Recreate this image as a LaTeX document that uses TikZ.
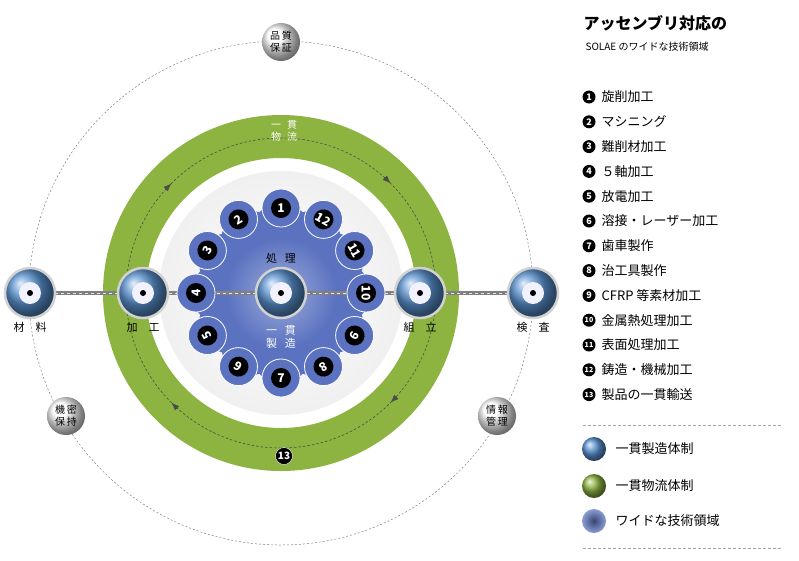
\documentclass[tikz,border=0pt]{standalone}
\usepackage{fontspec}
\setmainfont{Noto Sans CJK JP}
\usetikzlibrary{arrows.meta,decorations.markings,calc}
\definecolor{grn}{HTML}{8DB340}
\definecolor{blu}{HTML}{5A92D0}
\definecolor{vio}{HTML}{5B72C0}
\tikzset{
 nb/.style={circle,fill=black,text=white,inner sep=0pt,minimum size=13pt,font=\bfseries\fontsize{9}{9}\selectfont},
 proc/.style={circle,minimum size=50pt,draw=gray!35,line width=2.5pt,ball color=blu,inner sep=0pt},
 core/.style={circle,fill=blue!5,minimum size=22pt,inner sep=0pt},
 dot/.style={circle,fill=black,minimum size=6pt,inner sep=0pt},
 lab/.style={font=\fontsize{11}{13}\selectfont},
 sat/.style={circle,ball color=white,minimum size=38pt,inner sep=0pt,font=\fontsize{10}{12}\selectfont,align=center},
 small/.style={circle,fill=vio,draw=white,line width=0.8pt,minimum size=38pt,inner sep=0pt},
 item/.style={anchor=west,font=\fontsize{13}{13}\selectfont},
 legc/.style={circle,minimum size=24pt,inner sep=0pt}
}
\begin{document}
\begin{tikzpicture}[x=1pt,y=-1pt]
\useasboundingbox (0,0) rectangle (799,560);
\coordinate (C) at (281,293);
% outer dashed circle
\draw[gray,dashed,dash pattern=on 2pt off 2pt,line width=0.5pt] (C) circle[radius=252];
% green ring
\fill[grn,even odd rule] (C) circle[radius=178] (C) circle[radius=135];
\draw[black!70,dashed,dash pattern=on 2.5pt off 2pt,line width=0.6pt,
 postaction={decorate},decoration={markings,
 mark=at position 0.125 with {\arrow{Latex[length=8pt,width=6pt]}},
 mark=at position 0.375 with {\arrow{Latex[length=8pt,width=6pt]}},
 mark=at position 0.625 with {\arrow{Latex[length=8pt,width=6pt]}},
 mark=at position 0.875 with {\arrow{Latex[length=8pt,width=6pt]}}}]
 (C) ++(90:155) arc[start angle=90,end angle=450,radius=155];
% grey disc
\shade[inner color=white,outer color=gray!12] (C) circle[radius=122];
% blue core
\fill[vio] (C) circle[radius=80];
\foreach \a in {0,30,...,330} \fill[vio] (C) ++(\a:60) circle[radius=30];
\shade[inner color=vio!60!white,outer color=vio] (C) circle[radius=55];
% horizontal line
\draw[gray,line width=4pt] (30,293) -- (533,293);
\draw[white!80!gray,line width=1pt,dashed] (55,293) -- (508,293);
% small circles
\foreach \n/\a/\r in {1/90/0,12/60/-30,11/30/-60,10/0/-90,9/-30/-120,8/-60/-150,7/-90/0,6/-120/150,5/-150/120,4/180/90,3/150/60,2/120/30}{
 \node[small] (s\n) at ($(C)+({85*cos(\a)},{-85*sin(\a)})$) {};
 \node[nb,rotate=\r,minimum size=20pt,font=\bfseries\fontsize{12}{12}\selectfont] at (s\n) {\n};
}
% process nodes
\foreach \nm/\x in {mat/30,kak/143,cen/281,kum/420,ken/533}{
 \node[proc] (\nm) at (\x,293) {};
 \node[core] at (\nm) {};
 \node[dot] at (\nm) {};
}
\node[lab] at (30,327) {材\hspace{1em}料};
\node[lab] at (143,327) {加\hspace{1em}工};
\node[lab] at (420,327) {組\hspace{1em}立};
\node[lab] at (533,327) {検\hspace{1em}査};
\node[lab] at (281,258) {処\hspace{0.7em}理};
\node[lab,text=white,align=center] at (281,337) {一\hspace{0.7em}貫\\製\hspace{0.7em}造};
\node[lab,text=white,align=center,font=\fontsize{10}{12}\selectfont] at (284,131) {一\hspace{0.6em}貫\\物\hspace{0.6em}流};
\node[nb,minimum size=17pt,font=\bfseries\fontsize{10}{10}\selectfont,draw=white] (n13) at (284,456) {13};
% satellites
\node[sat] (hin) at (281,42) {品\,質\\保\,証};
\node[sat] (kim) at (66,416) {機\,密\\保\,持};
\node[sat] (jou) at (497,416) {情\,報\\管\,理};
% legend
\node[anchor=west,font=\bfseries\fontsize{16}{16}\selectfont] (t1) at (580,23) {アッセンブリ対応の};
\node[anchor=west,font=\fontsize{10}{10}\selectfont] (t2) at (582,47) {SOLAE のワイドな技術領域};
\foreach \i/\t in {1/旋削加工,2/マシニング,3/難削材加工,4/５軸加工,5/放電加工,6/溶接・レーザー加工,7/歯車製作,8/治工具製作,9/CFRP 等素材加工,10/金属熱処理加工,11/表面処理加工,12/鋳造・機械加工,13/製品の一貫輸送}{
 \node[nb] (b\i) at (589,{97+24.8*(\i-1)}) {\ifnum\i>9\fontsize{7}{7}\selectfont\fi\i};
 \node[item] at (598,{97+24.8*(\i-1)}) {\t};
}
\draw[gray!70,dashed,dash pattern=on 3pt off 2pt] (583,425) -- (783,425);
\draw[gray!70,dashed,dash pattern=on 3pt off 2pt] (583,548) -- (783,548);
\node[legc,ball color=blu] (l1) at (594,449) {};
\node[legc,ball color=grn] (l2) at (594,486) {};
\node[legc,inner color=vio!60!black,outer color=vio!70] (l3) at (594,521) {};
\node[item] at (612,449) {一貫製造体制};
\node[item] at (612,486) {一貫物流体制};
\node[item] at (612,521) {ワイドな技術領域};
\end{tikzpicture}
\end{document}
